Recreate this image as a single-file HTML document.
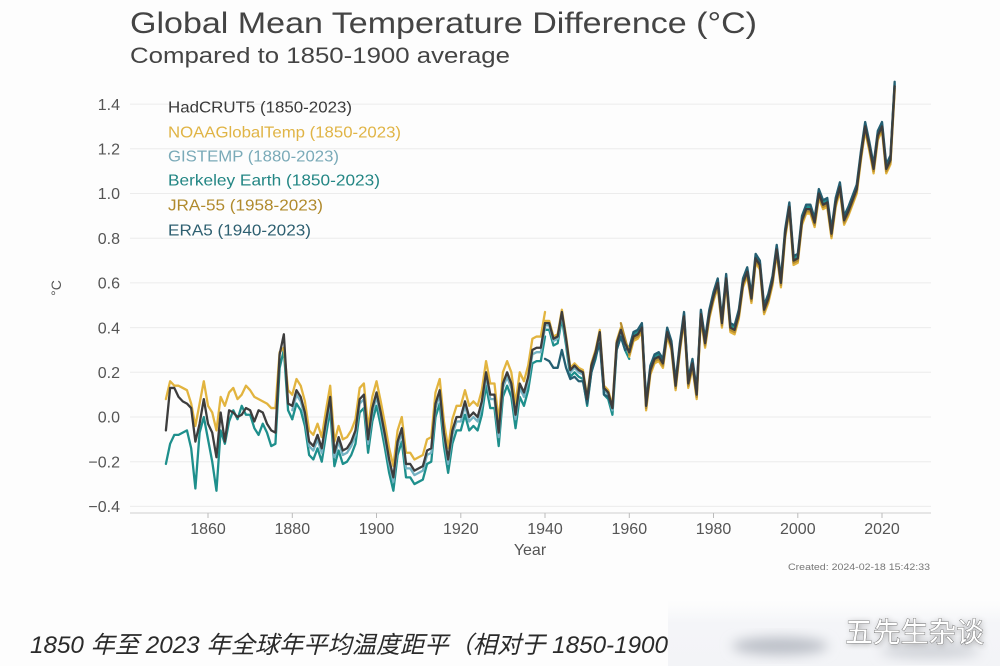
<!DOCTYPE html>
<html>
<head>
<meta charset="utf-8">
<style>
  html,body{margin:0;padding:0;background:#fdfdfd;}
  svg{display:block;}
  text{font-family:"Liberation Sans","Noto Sans CJK SC",sans-serif;}
</style>
</head>
<body>
<svg width="1000" height="666" viewBox="0 0 1000 666" xmlns="http://www.w3.org/2000/svg">
  <defs>
    <polyline id="hA" vector-effect="non-scaling-stroke" points="0,-0.06 1,0.13 2,0.13 3,0.09 4,0.07 5,0.06 6,0.04 7,-0.11 8,-0.03 9,0.08 10,-0.03 11,-0.07 12,-0.18 13,0.02 14,-0.11 15,0.03 16,0.02 17,0 18,0.01 19,0.04 20,0.03 21,-0.02 22,0.03 23,0.02 24,-0.03 25,-0.06 26,-0.07 27,0.28 28,0.37 29,0.06 30,0.05"/>
    <polyline id="bA" vector-effect="non-scaling-stroke" points="0,-0.21 1,-0.12 2,-0.08 3,-0.08 4,-0.07 5,-0.06 6,-0.14 7,-0.32 8,-0.07 9,0 10,-0.1 11,-0.2 12,-0.33 13,-0.06 14,-0.12 15,-0.02 16,0.03 17,-0.01 18,0.05 19,0.01 20,0.01 21,-0.05 22,-0.08 23,-0.03 24,-0.07 25,-0.13 26,-0.12 27,0.22 28,0.3 29,0.03 30,-0.01"/>
    <polyline id="nA" vector-effect="non-scaling-stroke" points="0,0.08 1,0.16 2,0.14 3,0.14 4,0.13 5,0.12 6,0.06 7,-0.04 8,0.06 9,0.16 10,0.05 11,0.02 12,-0.06 13,0.09 14,0.05 15,0.11 16,0.13 17,0.08 18,0.1 19,0.14 20,0.12 21,0.09 22,0.08 23,0.07 24,0.06 25,0.04 26,0.04 27,0.29 28,0.31 29,0.12 30,0.1"/>
    <polyline id="hB" vector-effect="non-scaling-stroke" points="30,0.05 31,0.12 32,0.09 33,0.02 34,-0.11 35,-0.13 36,-0.08 37,-0.14 38,-0.02 39,0.09 40,-0.16 41,-0.09 42,-0.15 43,-0.14 44,-0.11 45,-0.06 46,0.08 47,0.1 48,-0.1 49,0.04 50,0.11 51,0.02 52,-0.08 53,-0.19 54,-0.27 55,-0.11 56,-0.05 57,-0.21 58,-0.21 59,-0.24 60,-0.23 61,-0.22 62,-0.15 63,-0.14 64,0.06 65,0.12 66,-0.07 67,-0.19 68,-0.06 69,0 70,0 71,0.07 72,0 73,0.02 74,0 75,0.07 76,0.2 77,0.1 78,0.1 79,-0.07 80,0.15 81,0.2 82,0.15 83,0.01 84,0.15 85,0.11 86,0.18 87,0.3 88,0.31 89,0.31 90,0.42"/>
    <polyline id="hC" vector-effect="non-scaling-stroke" points="90,0.42 91,0.42 92,0.35 93,0.36 94,0.47 95,0.35 96,0.21 97,0.23 98,0.21 99,0.2 100,0.08 101,0.23 102,0.29 103,0.38 104,0.13 105,0.11 106,0.04 107,0.33 108,0.39 109,0.33 110,0.29"/>
    <polyline id="hD" vector-effect="non-scaling-stroke" points="110,0.29 111,0.36 112,0.37 113,0.4 114,0.05 115,0.21 116,0.26 117,0.27 118,0.24 119,0.38 120,0.32 121,0.14 122,0.31 123,0.45 124,0.15 125,0.24 126,0.1 127,0.46 128,0.33 129,0.46 130,0.54 131,0.6 132,0.42 133,0.62 134,0.4 135,0.39 136,0.46 137,0.6 138,0.65 139,0.53 140,0.71 141,0.68 142,0.48 143,0.53 144,0.61 145,0.75 146,0.6 147,0.82 148,0.94 149,0.7 150,0.71 151,0.88 152,0.93 153,0.93 154,0.87 155,1 156,0.95 157,0.96 158,0.82 159,0.96 160,1.03 161,0.88 162,0.92 163,0.97 164,1.02 165,1.17 166,1.3 167,1.21 168,1.11 169,1.26 170,1.3 171,1.11 172,1.15 173,1.48"/>
    <polyline id="eC" vector-effect="non-scaling-stroke" points="90,0.26 91,0.25 92,0.22 93,0.22 94,0.3 95,0.22 96,0.17 97,0.18 98,0.16 99,0.16 100,0.06 101,0.2 102,0.27 103,0.33 104,0.1 105,0.09 106,0.04 107,0.3 108,0.36 109,0.3 110,0.31"/>
    <polyline id="jC" vector-effect="non-scaling-stroke" points="108,0.42 109,0.35 110,0.28"/>
    <filter id="blur6" x="-50%" y="-50%" width="200%" height="200%"><feGaussianBlur stdDeviation="6"/></filter>
    <filter id="blur3" x="-50%" y="-50%" width="200%" height="200%"><feGaussianBlur stdDeviation="3"/></filter>
    <linearGradient id="patch" x1="0" y1="0" x2="0" y2="1">
      <stop offset="0" stop-color="#f7f8fa" stop-opacity="0"/>
      <stop offset="0.35" stop-color="#f4f5f8" stop-opacity="1"/>
      <stop offset="1" stop-color="#f3f4f7" stop-opacity="1"/>
    </linearGradient>
  </defs>

  <!-- Title -->
  <text x="130" y="33" font-size="30" fill="#444" textLength="627" lengthAdjust="spacingAndGlyphs">Global Mean Temperature Difference (°C)</text>
  <text x="130" y="63" font-size="22" fill="#444" textLength="380" lengthAdjust="spacingAndGlyphs">Compared to 1850-1900 average</text>

  <!-- Gridlines -->
  <g stroke="#ececec" stroke-width="1">
    <line x1="130" x2="931" y1="104.1" y2="104.1"/>
    <line x1="130" x2="931" y1="148.8" y2="148.8"/>
    <line x1="130" x2="931" y1="193.5" y2="193.5"/>
    <line x1="130" x2="931" y1="238.2" y2="238.2"/>
    <line x1="130" x2="931" y1="282.9" y2="282.9"/>
    <line x1="130" x2="931" y1="327.6" y2="327.6"/>
    <line x1="130" x2="931" y1="372.3" y2="372.3"/>
    <line x1="130" x2="931" y1="417" y2="417"/>
    <line x1="130" x2="931" y1="461.7" y2="461.7"/>
    <line x1="130" x2="931" y1="506.4" y2="506.4"/>
  </g>
  <line x1="130" x2="931" y1="513" y2="513" stroke="#d9d9d9" stroke-width="1.2"/>
  <g stroke="#bbb" stroke-width="1">
    <line x1="208" x2="208" y1="513" y2="518"/>
    <line x1="292.3" x2="292.3" y1="513" y2="518"/>
    <line x1="376.5" x2="376.5" y1="513" y2="518"/>
    <line x1="460.8" x2="460.8" y1="513" y2="518"/>
    <line x1="545" x2="545" y1="513" y2="518"/>
    <line x1="629.3" x2="629.3" y1="513" y2="518"/>
    <line x1="713.5" x2="713.5" y1="513" y2="518"/>
    <line x1="797.8" x2="797.8" y1="513" y2="518"/>
    <line x1="882" x2="882" y1="513" y2="518"/>
  </g>

  <!-- Y tick labels -->
  <g font-size="16" fill="#555" text-anchor="end">
    <text x="120" y="109.8">1.4</text>
    <text x="120" y="154.5">1.2</text>
    <text x="120" y="199.2">1.0</text>
    <text x="120" y="243.9">0.8</text>
    <text x="120" y="288.6">0.6</text>
    <text x="120" y="333.3">0.4</text>
    <text x="120" y="378">0.2</text>
    <text x="120" y="422.7">0.0</text>
    <text x="120" y="467.4">−0.2</text>
    <text x="120" y="512.1">−0.4</text>
  </g>
  <text transform="translate(61,288) rotate(-90)" font-size="14" fill="#555" text-anchor="middle">°C</text>

  <!-- X tick labels -->
  <g font-size="16" fill="#555" text-anchor="middle">
    <text x="208" y="534">1860</text>
    <text x="292.3" y="534">1880</text>
    <text x="376.5" y="534">1900</text>
    <text x="460.8" y="534">1920</text>
    <text x="545" y="534">1940</text>
    <text x="629.3" y="534">1960</text>
    <text x="713.5" y="534">1980</text>
    <text x="797.8" y="534">2000</text>
    <text x="882" y="534">2020</text>
  </g>
  <text x="530" y="555" font-size="16" fill="#555" text-anchor="middle">Year</text>
  <text x="788" y="570" font-size="9" fill="#777" textLength="142" lengthAdjust="spacingAndGlyphs">Created: 2024-02-18 15:42:33</text>

  <!-- Legend -->
  <g font-size="16">
    <text x="168" y="112.5" fill="#3a3a3a" textLength="184" lengthAdjust="spacingAndGlyphs">HadCRUT5 (1850-2023)</text>
    <text x="168" y="137.5" fill="#e0b445" textLength="233" lengthAdjust="spacingAndGlyphs">NOAAGlobalTemp (1850-2023)</text>
    <text x="168" y="161.5" fill="#7aaab8" textLength="171" lengthAdjust="spacingAndGlyphs">GISTEMP (1880-2023)</text>
    <text x="168" y="185.5" fill="#238684" textLength="212" lengthAdjust="spacingAndGlyphs">Berkeley Earth (1850-2023)</text>
    <text x="168" y="210.5" fill="#b08a2c" textLength="155" lengthAdjust="spacingAndGlyphs">JRA-55 (1958-2023)</text>
    <text x="168" y="235.5" fill="#2d5f70" textLength="143" lengthAdjust="spacingAndGlyphs">ERA5 (1940-2023)</text>
  </g>

  <!-- Data series -->
  <g transform="matrix(4.2125 0 0 -223.5 165.9 417)" fill="none" stroke-width="2.3" stroke-linejoin="round" stroke-linecap="round">
    <!-- Berkeley Earth -->
    <g stroke="#1e8f8c">
      <use href="#bA"/>
      <use href="#hB" transform="translate(0,-0.06)"/>
      <use href="#hC" transform="translate(0,-0.03)"/>
      <use href="#hD" transform="translate(0,0.01)"/>
    </g>
    <!-- GISTEMP -->
    <g stroke="#74b2c2">
      <use href="#hB" transform="translate(0,-0.02)"/>
      <use href="#hC" transform="translate(0,-0.01)"/>
      <use href="#hD" transform="translate(0,0)"/>
    </g>
    <!-- ERA5 -->
    <g stroke="#245f72">
      <use href="#eC"/>
      <use href="#hD" transform="translate(0,0.02)"/>
    </g>
    <!-- NOAA -->
    <g stroke="#e2b43f">
      <use href="#nA"/>
      <use href="#hB" transform="translate(0,0.05)"/>
      <use href="#hC" transform="translate(0,0.01)"/>
      <use href="#hD" transform="translate(0,-0.02)"/>
    </g>
    <!-- JRA-55 -->
    <g stroke="#b78d2e">
      <use href="#jC"/>
      <use href="#hD" transform="translate(0,-0.01)"/>
    </g>
    <!-- HadCRUT5 -->
    <g stroke="#3d3d3d">
      <use href="#hA"/>
      <use href="#hB"/>
      <use href="#hC"/>
      <use href="#hD"/>
    </g>
  </g>

  <!-- Bottom caption -->
  <text x="30" y="653" font-size="24" font-style="italic" fill="#2a2a2a" textLength="638" lengthAdjust="spacingAndGlyphs" style='font-family:"Liberation Sans","Noto Sans CJK SC",sans-serif;'>1850 年至 2023 年全球年平均温度距平（相对于 1850-1900</text>

  <!-- blurred patch + watermark -->
  <rect x="668" y="600" width="332" height="66" fill="url(#patch)"/>
  <ellipse cx="780" cy="646" rx="48" ry="9" fill="#bcc0c8" filter="url(#blur6)"/>
  <ellipse cx="930" cy="651" rx="50" ry="7" fill="#cdd0d6" filter="url(#blur6)"/>
  <text x="846" y="643" font-size="28" fill="#555" opacity="0.6" filter="url(#blur3)" style='font-family:"Noto Sans CJK SC",sans-serif;' textLength="139" lengthAdjust="spacingAndGlyphs">五先生杂谈</text>
  <text x="845" y="642" font-size="28" fill="#ffffff" stroke="#6a6a6a" stroke-width="0.8" paint-order="stroke" style='font-family:"Noto Sans CJK SC",sans-serif;' textLength="139" lengthAdjust="spacingAndGlyphs">五先生杂谈</text>
</svg>
</body>
</html>
